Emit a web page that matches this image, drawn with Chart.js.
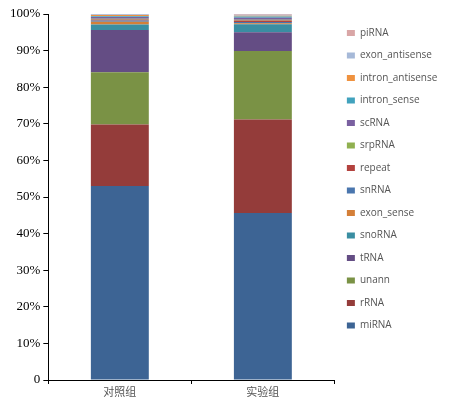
<!DOCTYPE html>
<html lang="zh">

<head>
    <meta charset="UTF-8">
    <title>small RNA 分类</title>
    <script src="https://cdn.jsdelivr.net/npm/chart.js"></script>
    <style>
        html, body { margin: 0; padding: 0; background: #fff; }
    </style>
</head>

<body>
    <canvas id="grafico" width="459" height="399"></canvas>

<script>
    // categorias
    const grupos = ['对照组', '实验组'];

    // percentuais (de baixo para cima)
    const miRNA = [53.0, 45.6];
    const rRNA = [16.8, 25.6];
    const unann = [14.3, 18.7];
    const tRNA = [11.5, 5.1];
    const snoRNA = [1.5, 2.2];
    const exon_sense = [0.8, 0.3];
    const snRNA = [0.3, 0.3];
    const repeat = [0.3, 0.4];
    const srpRNA = [0.2, 0.2];
    const scRNA = [0.5, 0.6];
    const intron_sense = [0.2, 0.3];
    const intron_antisense = [0.3, 0.2];
    const exon_antisense = [0.2, 0.3];
    const piRNA = [0.1, 0.2];

    const yTicks = [0, 10, 20, 30, 40, 50, 60, 70, 80, 90, 100];

    const series = [
        ['miRNA', miRNA, '#3d6494'],
        ['rRNA', rRNA, '#943c3a'],
        ['unann', unann, '#7a9245'],
        ['tRNA', tRNA, '#644d84'],
        ['snoRNA', snoRNA, '#3a8ea2'],
        ['exon_sense', exon_sense, '#d47f38'],
        ['snRNA', snRNA, '#4a76ae'],
        ['repeat', repeat, '#b3423e'],
        ['srpRNA', srpRNA, '#90b050'],
        ['scRNA', scRNA, '#7a60a0'],
        ['intron_sense', intron_sense, '#41a2bd'],
        ['intron_antisense', intron_antisense, '#ef923f'],
        ['exon_antisense', exon_antisense, '#a6b9d8'],
        ['piRNA', piRNA, '#d9a6a6']
    ];

    const dados = {
        labels: grupos,
        datasets: series.map(s => ({
            label: s[0],
            data: s[1],
            backgroundColor: s[2],
            borderWidth: 0,
            categoryPercentage: 1,
            barPercentage: 0.405
        }))
    };

    const config = {
        type: 'bar',
        data: dados,
        options: {
            responsive: false,
            animation: false,
            layout: {
                padding: { left: 7, right: 15.5, top: 14, bottom: 0 }
            },
            plugins: {
                tooltip: { enabled: false },
                legend: {
                    display: true,
                    position: 'right',
                    align: 'start',
                    reverse: true,
                    title: {
                        display: true,
                        text: ' ',
                        font: { size: 1, lineHeight: 1 },
                        padding: { top: 0.5, bottom: 0 }
                    },
                    labels: {
                        boxWidth: 8,
                        boxHeight: 6,
                        padding: 12.5,
                        color: '#555',
                        font: { size: 10, family: 'Open Sans' }
                    }
                }
            },
            scales: {
                x: {
                    stacked: true,
                    border: { display: true, color: '#000', width: 1 },
                    grid: {
                        display: true,
                        drawOnChartArea: false,
                        drawTicks: true,
                        tickLength: 4,
                        color: '#000',
                        offset: true
                    },
                    ticks: {
                        padding: 2,
                        color: '#555',
                        font: { size: 11, family: 'Noto Sans CJK SC', lineHeight: 1 }
                    }
                },
                y: {
                    stacked: true,
                    min: 0,
                    max: 100,
                    afterBuildTicks: axis => {
                        axis.ticks = yTicks.map(v => ({ value: v }));
                    },
                    border: { display: true, color: '#000', width: 1 },
                    grid: {
                        display: true,
                        drawOnChartArea: false,
                        drawTicks: true,
                        tickLength: 5,
                        color: '#000'
                    },
                    ticks: {
                        padding: 3,
                        color: '#000',
                        font: { size: 13, family: 'Liberation Serif' },
                        callback: v => v === 0 ? '0' : v + '%'
                    }
                }
            }
        }
    };

    let grafico = new Chart(
        document.getElementById('grafico'),
        config
    );
</script>
</body>

</html>
